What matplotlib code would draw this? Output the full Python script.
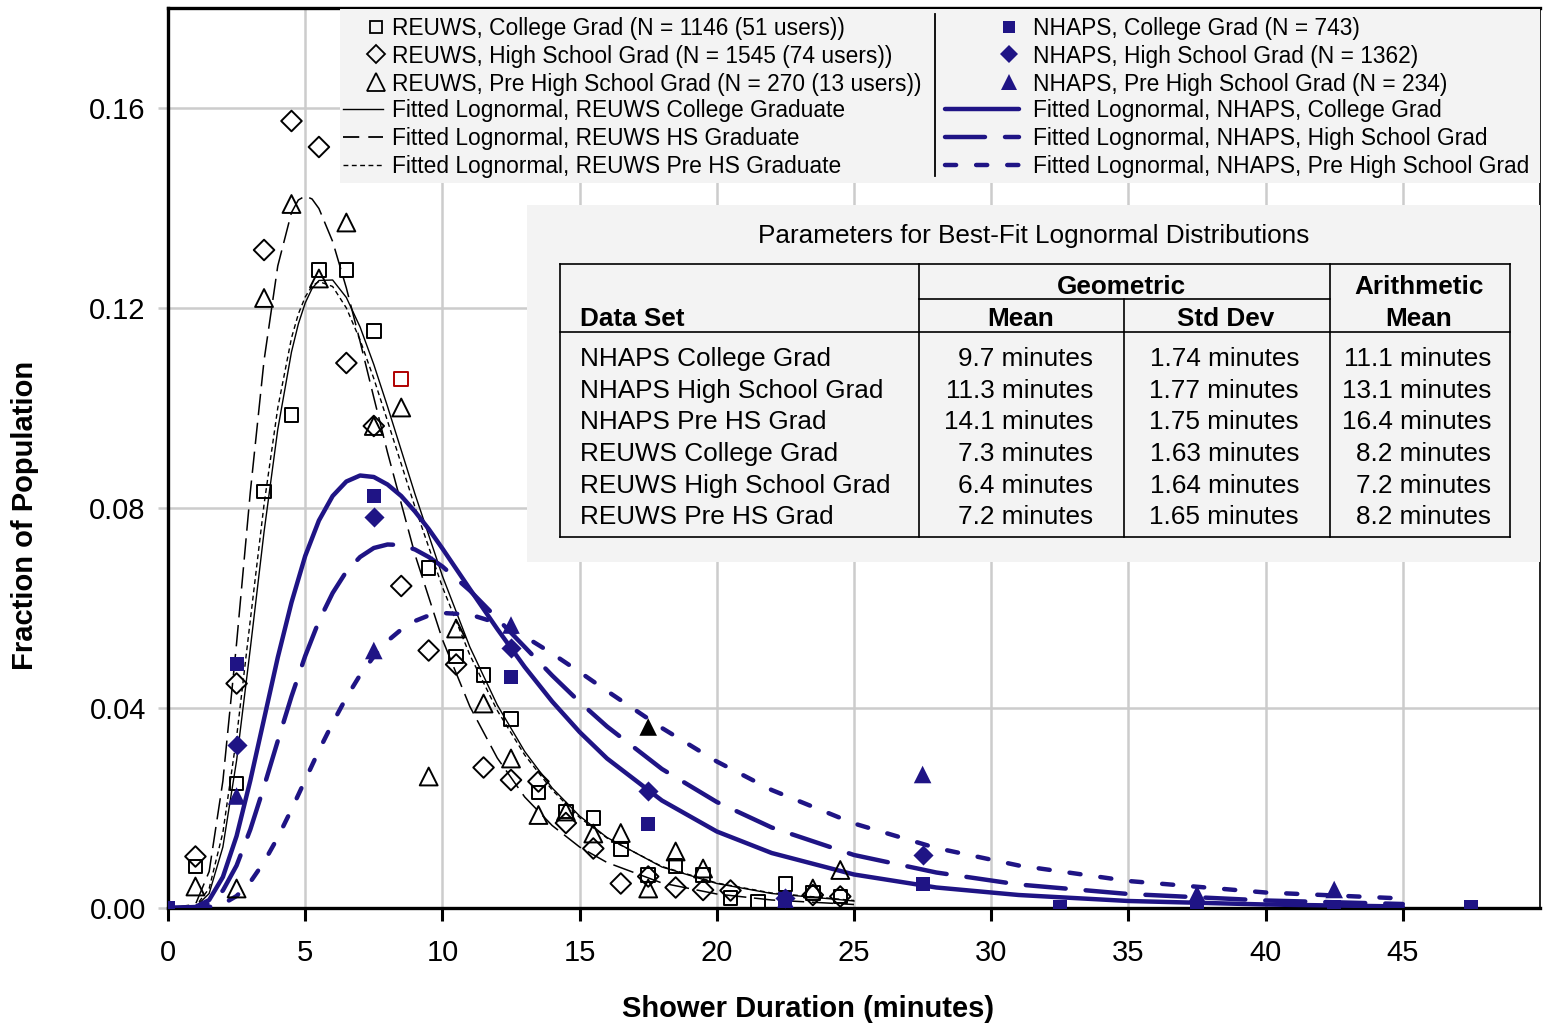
import matplotlib
matplotlib.use("Agg")
import matplotlib.pyplot as plt
from matplotlib.lines import Line2D
from matplotlib.patches import Rectangle

plt.rcParams['font.family'] = ['Liberation Sans', 'DejaVu Sans']

NAVY = '#1f1485'

# ---------------- data ----------------
# REUWS observed fractions (open markers)
rc_x = [1, 2.5, 3.5, 4.5, 5.5, 6.5, 7.5, 8.5, 9.5, 10.5, 11.5, 12.5, 13.5, 14.5,
        15.5, 16.5, 17.5, 18.5, 19.5, 20.5, 21.5, 22.5, 23.5, 24.5]
rc_y = [0.0083, 0.0249, 0.0833, 0.0986, 0.1276, 0.1276, 0.1154, 0.1058, 0.0680,
        0.0503, 0.0466, 0.0378, 0.0231, 0.0193, 0.0180, 0.0117, 0.0066, 0.0084,
        0.0066, 0.0020, 0.0013, 0.0048, 0.0030, 0.0023]

rh_x = [1, 2.5, 3.5, 4.5, 5.5, 6.5, 7.5, 8.5, 9.5, 10.5, 11.5, 12.5, 13.5, 14.5,
        15.5, 16.5, 17.5, 18.5, 19.5, 20.5, 23.5, 24.5]
rh_y = [0.0103, 0.0449, 0.1316, 0.1574, 0.1522, 0.1090, 0.0964, 0.0644, 0.0515,
        0.0487, 0.0281, 0.0256, 0.0253, 0.0170, 0.0119, 0.0049, 0.0063, 0.0041,
        0.0036, 0.0035, 0.0026, 0.0023]

rp_x = [1, 2.5, 3.5, 4.5, 5.5, 6.5, 7.5, 8.5, 9.5, 10.5, 11.5, 12.5, 13.5, 14.5,
        15.5, 16.5, 17.5, 18.5, 19.5, 23.5, 24.5]
rp_y = [0.0043, 0.0039, 0.1220, 0.1408, 0.1259, 0.1371, 0.0964, 0.1001, 0.0263,
        0.0559, 0.0409, 0.0299, 0.0186, 0.0193, 0.0149, 0.0150, 0.0039, 0.0113,
        0.0079, 0.0039, 0.0076]

# NHAPS observed fractions (filled markers)
nc_x = [0, 2.5, 7.5, 12.5, 17.5, 22.5, 27.5, 32.5, 37.5, 42.5, 47.5]
nc_y = [0.0, 0.0488, 0.0824, 0.0462, 0.0168, 0.0019, 0.0049, 0.0003, 0.0003,
        0.0003, 0.0003]

nh_x = [2.5, 7.5, 12.5, 17.5, 22.5, 27.5]
nh_y = [0.0326, 0.0782, 0.0521, 0.0234, 0.0020, 0.0107]

np_x = [2.5, 7.5, 12.5, 17.5, 22.5, 27.5, 37.5, 42.5]
np_y = [0.0224, 0.0515, 0.0566, 0.0362, 0.0016, 0.0267, 0.0028, 0.0037]

# fitted lognormal curves
reuws_fit_x = [0, 1, 1.5, 2, 2.5, 3, 3.5, 4, 4.5, 4.75, 5, 5.25, 5.5, 6, 6.5, 7,
               7.5, 8, 9, 10, 11, 12, 13, 14, 15, 16, 18, 20, 22, 25]
rc_fit = [0, 0.0002, 0.0029, 0.0122, 0.0295, 0.0519, 0.0752, 0.0957, 0.1112,
          0.1168, 0.1210, 0.1239, 0.1255, 0.1256, 0.1221, 0.1162, 0.1087, 0.1003,
          0.0828, 0.0664, 0.0522, 0.0406, 0.0313, 0.0240, 0.0184, 0.0141, 0.0082,
          0.0049, 0.0029, 0.0014]
rh_fit = [0, 0.0007, 0.0073, 0.0254, 0.0530, 0.0832, 0.1095, 0.1284, 0.1391,
          0.1416, 0.1424, 0.1418, 0.1399, 0.1333, 0.1240, 0.1133, 0.1021, 0.0911,
          0.0707, 0.0537, 0.0403, 0.0300, 0.0222, 0.0165, 0.0122, 0.0091, 0.0050,
          0.0028, 0.0016, 0.0007]
rp_fit = [0, 0.0003, 0.0039, 0.0151, 0.0342, 0.0576, 0.0807, 0.1000, 0.1140,
          0.1188, 0.1222, 0.1244, 0.1253, 0.1243, 0.1200, 0.1136, 0.1059, 0.0974,
          0.0802, 0.0642, 0.0506, 0.0395, 0.0306, 0.0236, 0.0181, 0.0140, 0.0083,
          0.0050, 0.0030, 0.0015]

nhaps_fit_x = [0, 1, 1.5, 2, 2.5, 3, 3.5, 4, 4.5, 5, 5.5, 6, 6.5, 7, 7.5, 8, 8.5,
               9, 9.5, 10, 11, 12, 13, 14, 15, 16, 18, 20, 22, 25, 28, 31, 35, 40,
               45]
nc_fit = [0, 0.0002, 0.0016, 0.0062, 0.0144, 0.0255, 0.0378, 0.0501, 0.0611,
          0.0704, 0.0775, 0.0824, 0.0853, 0.0865, 0.0862, 0.0847, 0.0824, 0.0793,
          0.0758, 0.0719, 0.0638, 0.0558, 0.0482, 0.0413, 0.0352, 0.0299, 0.0215,
          0.0153, 0.0110, 0.0067, 0.0041, 0.0026, 0.0014, 0.0007, 0.0003]
nh_fit = [0, 0.0001, 0.0009, 0.0035, 0.0085, 0.0157, 0.0243, 0.0334, 0.0423,
          0.0504, 0.0574, 0.0630, 0.0673, 0.0702, 0.0720, 0.0727, 0.0726, 0.0717,
          0.0702, 0.0683, 0.0635, 0.0579, 0.0522, 0.0465, 0.0412, 0.0363, 0.0278,
          0.0212, 0.0161, 0.0106, 0.0071, 0.0047, 0.0028, 0.0015, 0.0008]
np_fit = [0, 0.0, 0.0002, 0.0008, 0.0024, 0.0052, 0.0092, 0.0141, 0.0197, 0.0256,
          0.0315, 0.0370, 0.0421, 0.0466, 0.0503, 0.0534, 0.0557, 0.0574, 0.0585,
          0.0590, 0.0587, 0.0570, 0.0543, 0.0509, 0.0472, 0.0434, 0.0360, 0.0293,
          0.0236, 0.0169, 0.0120, 0.0085, 0.0054, 0.0031, 0.0019]

x_ticks = [0, 5, 10, 15, 20, 25, 30, 35, 40, 45]
y_ticks = [0.00, 0.04, 0.08, 0.12, 0.16]

reuws_labels = ['REUWS, College Grad (N = 1146 (51 users))',
                'REUWS, High School Grad (N = 1545 (74 users))',
                'REUWS, Pre High School Grad (N = 270 (13 users))',
                'Fitted Lognormal, REUWS College Graduate',
                'Fitted Lognormal, REUWS HS Graduate',
                'Fitted Lognormal, REUWS Pre HS Graduate']
nhaps_labels = ['NHAPS, College Grad (N = 743)',
                'NHAPS, High School Grad (N = 1362)',
                'NHAPS, Pre High School Grad (N = 234)',
                'Fitted Lognormal, NHAPS, College Grad',
                'Fitted Lognormal, NHAPS, High School Grad',
                'Fitted Lognormal, NHAPS, Pre High School Grad']

table_title = 'Parameters for Best-Fit Lognormal Distributions'
table_sets = ['NHAPS College Grad', 'NHAPS High School Grad', 'NHAPS Pre HS Grad',
              'REUWS College Grad', 'REUWS High School Grad', 'REUWS Pre HS Grad']
table_gmean = ['9.7 minutes', '11.3 minutes', '14.1 minutes',
               '7.3 minutes', '6.4 minutes', '7.2 minutes']
table_gsd = ['1.74 minutes', '1.77 minutes', '1.75 minutes',
             '1.63 minutes', '1.64 minutes', '1.65 minutes']
table_amean = ['11.1 minutes', '13.1 minutes', '16.4 minutes',
               '8.2 minutes', '7.2 minutes', '8.2 minutes']

# ---------------- styles ----------------
rc_ls = '-'
rh_ls = (0, (14, 5))
rp_ls = (0, (3.5, 2.5))
nc_ls = '-'
nh_ls = (0, (9, 4.5))
np_ls = (0, (2.5, 4.5))

W, H = 1551, 1026
def fx(p):
    return p / W
def fy(p):
    return 1 - p / H

fig = plt.figure(figsize=(W / 100, H / 100), dpi=100)
ax = fig.add_axes([fx(168), fy(908), (1540 - 168) / W, (908 - 8) / H])

# fitted curves
ax.plot(reuws_fit_x, rc_fit, color='black', lw=1.0, ls=rc_ls, zorder=3)
ax.plot(reuws_fit_x, rh_fit, color='black', lw=1.1, ls=rh_ls, zorder=3)
ax.plot(reuws_fit_x, rp_fit, color='black', lw=1.0, ls=rp_ls, zorder=3)
ax.plot(nhaps_fit_x, nc_fit, color=NAVY, lw=3.2, ls=nc_ls, zorder=3,
        solid_capstyle='round', solid_joinstyle='round')
ax.plot(nhaps_fit_x, nh_fit, color=NAVY, lw=3.2, ls=nh_ls, zorder=3,
        dash_capstyle='round', dash_joinstyle='round')
ax.plot(nhaps_fit_x, np_fit, color=NAVY, lw=3.2, ls=np_ls, zorder=3,
        dash_capstyle='round', dash_joinstyle='round')

# observed points
rc_edge = ['#b00000' if x == 8.5 else 'black' for x in rc_x]
ax.scatter(rc_x, rc_y, marker='s', s=95, facecolors='none', edgecolors=rc_edge,
           linewidths=1.4, zorder=4)
ax.scatter(rh_x, rh_y, marker='D', s=110, facecolors='none', edgecolors='black',
           linewidths=1.4, zorder=4)
ax.scatter(rp_x, rp_y, marker='^', s=165, facecolors='none', edgecolors='black',
           linewidths=1.4, zorder=4)
ax.scatter(nc_x, nc_y, marker='s', s=110, color=NAVY, linewidths=0, zorder=5)
ax.scatter(nh_x, nh_y, marker='D', s=105, color=NAVY, linewidths=0, zorder=5)
np_face = ['black' if x == 17.5 else NAVY for x in np_x]
ax.scatter(np_x, np_y, marker='^', s=160, color=np_face, linewidths=0, zorder=5)

ax.set_xlim(0, 50)
ax.set_ylim(0, 0.18)
ax.set_xticks(x_ticks)
ax.set_xticklabels([str(t) for t in x_ticks])
ax.set_yticks(y_ticks)
ax.set_yticklabels(['%.2f' % t for t in y_ticks])
ax.tick_params(axis='x', direction='out', length=9, width=2.2, color='black',
               labelsize=21, pad=13)
ax.tick_params(axis='y', direction='out', length=7, width=1.8, color='#cccccc',
               labelsize=21, pad=9)
ax.grid(True, color='#cccccc', lw=1.8)
ax.set_axisbelow(True)
for side in ['left', 'bottom', 'top']:
    ax.spines[side].set_linewidth(2.4)
ax.spines['right'].set_linewidth(1.2)

ax.set_xlabel('Shower Duration (minutes)', fontsize=21, fontweight='bold',
              va='center')
ax.xaxis.set_label_coords((808 - 168) / 1372, (908 - 1009) / 900)
ax.set_ylabel('Fraction of Population', fontsize=21, fontweight='bold',
              va='center')
ax.yaxis.set_label_coords((25 - 168) / 1372, (908 - 515) / 900)

# ---------------- legend block ----------------
fig.add_artist(Rectangle((fx(340), fy(183)), (1540 - 340) / W, (183 - 9) / H,
                         transform=fig.transFigure, facecolor='#f3f3f3',
                         edgecolor='none', zorder=1))
fig.add_artist(Line2D([fx(935), fx(935)], [fy(14), fy(176)],
                      transform=fig.transFigure, color='black', lw=1.3, zorder=2))

rows_y = [27, 54, 82, 109, 137, 165]
left_markers = [('s', 8.5), ('D', 9), ('^', 12.5)]
for (m, ms), yy in zip(left_markers, rows_y[:3]):
    fig.add_artist(Line2D([fx(376)], [fy(yy)], transform=fig.transFigure,
                          marker=m, ms=ms, mfc='none', mec='black', mew=1.3,
                          ls='none', zorder=3))
for (ls, lw), yy in zip([(rc_ls, 1.0), (rh_ls, 1.3), (rp_ls, 1.0)], rows_y[3:]):
    fig.add_artist(Line2D([fx(343), fx(383)], [fy(yy), fy(yy)],
                          transform=fig.transFigure, color='black', lw=lw,
                          ls=ls if ls != rh_ls else (0, (9, 5)), zorder=3))
for lab, yy in zip(reuws_labels, rows_y):
    fig.text(fx(392), fy(yy + 2), lab, fontsize=16.4, ha='left', va='center',
             zorder=3)

right_markers = [('s', 9), ('D', 9), ('^', 12)]
for (m, ms), yy in zip(right_markers, rows_y[:3]):
    fig.add_artist(Line2D([fx(1009)], [fy(yy)], transform=fig.transFigure,
                          marker=m, ms=ms, color=NAVY, mew=0, ls='none', zorder=3))
for ls, yy in zip([nc_ls, nh_ls, np_ls], rows_y[3:]):
    fig.add_artist(Line2D([fx(945), fx(1019)], [fy(yy), fy(yy)],
                          transform=fig.transFigure, color=NAVY, lw=3.2, ls=ls,
                          dash_capstyle='round', solid_capstyle='round', zorder=3))
for lab, yy in zip(nhaps_labels, rows_y):
    fig.text(fx(1033), fy(yy + 2), lab, fontsize=16.4, ha='left', va='center',
             zorder=3)

# ---------------- parameter table ----------------
fig.add_artist(Rectangle((fx(527), fy(562)), (1540 - 527) / W, (562 - 205) / H,
                         transform=fig.transFigure, facecolor='#f3f3f3',
                         edgecolor='none', zorder=1))
tfs = 18.8
fig.text(fx(1034), fy(236), table_title, fontsize=tfs, ha='center', va='center',
         zorder=3)

def hline(x0, x1, y):
    fig.add_artist(Line2D([fx(x0), fx(x1)], [fy(y), fy(y)],
                          transform=fig.transFigure, color='black', lw=1.2, zorder=2))

def vline(x, y0, y1):
    fig.add_artist(Line2D([fx(x), fx(x)], [fy(y0), fy(y1)],
                          transform=fig.transFigure, color='black', lw=1.2, zorder=2))

hline(560, 1510, 264)
hline(560, 1510, 332)
hline(560, 1510, 537)
hline(919, 1330, 299)
vline(560, 264, 537)
vline(919, 264, 537)
vline(1124, 299, 537)
vline(1330, 264, 537)
vline(1510, 264, 537)

fig.text(fx(1121), fy(287), 'Geometric', fontsize=tfs, fontweight='bold',
         ha='center', va='center', zorder=3)
fig.text(fx(1419), fy(287), 'Arithmetic', fontsize=tfs, fontweight='bold',
         ha='center', va='center', zorder=3)
fig.text(fx(580), fy(319), 'Data Set', fontsize=tfs, fontweight='bold',
         ha='left', va='center', zorder=3)
fig.text(fx(1021), fy(319), 'Mean', fontsize=tfs, fontweight='bold',
         ha='center', va='center', zorder=3)
fig.text(fx(1226), fy(319), 'Std Dev', fontsize=tfs, fontweight='bold',
         ha='center', va='center', zorder=3)
fig.text(fx(1419), fy(319), 'Mean', fontsize=tfs, fontweight='bold',
         ha='center', va='center', zorder=3)

table_rows_y = [359, 391, 422, 454, 486, 517]
for i, yy in enumerate(table_rows_y):
    fig.text(fx(580), fy(yy), table_sets[i], fontsize=tfs, ha='left', va='center',
             zorder=3)
    fig.text(fx(1093), fy(yy), table_gmean[i], fontsize=tfs, ha='right',
             va='center', zorder=3)
    fig.text(fx(1299), fy(yy), table_gsd[i], fontsize=tfs, ha='right',
             va='center', zorder=3)
    fig.text(fx(1491), fy(yy), table_amean[i], fontsize=tfs, ha='right',
             va='center', zorder=3)

fig.savefig('out.png', dpi=100)
